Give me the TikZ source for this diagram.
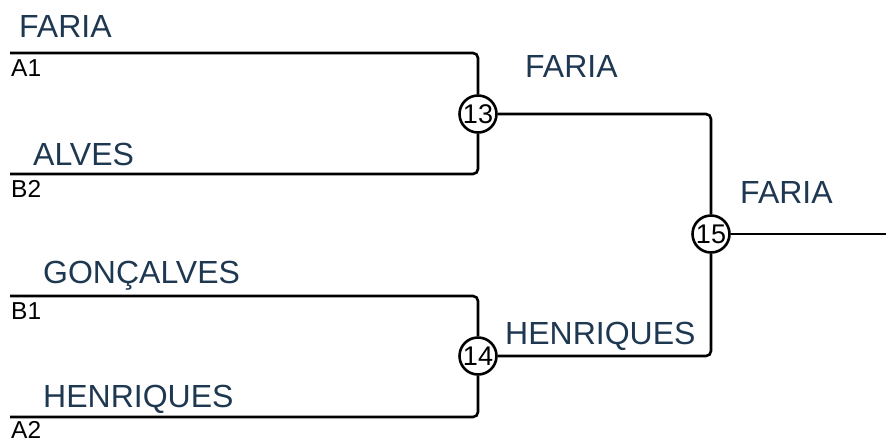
\documentclass[tikz,border=0pt]{standalone}
\usepackage{fontspec}
\usepackage{tikz}
\setmainfont{Liberation Sans}
\definecolor{teamblue}{RGB}{31,56,82}

\begin{document}
\begin{tikzpicture}[x=1pt,y=-1pt,
    line/.style={line width=2.6pt,rounded corners=5pt},
    game/.style={circle,draw,line width=2.6pt,minimum size=37pt,inner sep=0pt,
      font=\fontsize{27}{27}\selectfont},
    team/.style={anchor=base west,inner sep=0pt,text=teamblue,
      font=\fontsize{32}{32}\selectfont},
    seed/.style={anchor=base west,inner sep=0pt,
      font=\fontsize{24.5}{24.5}\selectfont}]
  \useasboundingbox (0,0) rectangle (886,440);
  % games
  \node [game] (g13) at (478,114) {13};
  \node [game] (g14) at (478,356) {14};
  \node [game] (g15) at (711,234) {15};
  % line ends
  \coordinate (a1) at (10,53);
  \coordinate (b2) at (10,174);
  \coordinate (b1) at (10,296);
  \coordinate (a2) at (10,417);
  \coordinate (win) at (886,234);
  % brackets
  \draw [line] (a1) -- (a1 -| g13) -- (g13);
  \draw [line] (b2) -- (b2 -| g13) -- (g13);
  \draw [line] (b1) -- (b1 -| g14) -- (g14);
  \draw [line] (a2) -- (a2 -| g14) -- (g14);
  \draw [line] (g13) -- (g13 -| g15) -- (g15);
  \draw [line] (g14) -- (g14 -| g15) -- (g15);
  \draw [line] (g15) -- (win);
  % names
  \node [team] (t1) at (19,37) {FARIA};
  \node [team] (t2) at (33,165) {ALVES};
  \node [team] (t3) at (43,283) {GONÇALVES};
  \node [team] (t4) at (43,407) {HENRIQUES};
  \node [team] (t13) at (525,77) {FARIA};
  \node [team] (t14) at (505,344) {HENRIQUES};
  \node [team] (t15) at (740,203) {FARIA};
  % seeds
  \node [seed] (s1) at (11,76) {A1};
  \node [seed] (s2) at (11,197) {B2};
  \node [seed] (s3) at (11,319) {B1};
  \node [seed] (s4) at (11,438) {A2};
\end{tikzpicture}
\end{document}
